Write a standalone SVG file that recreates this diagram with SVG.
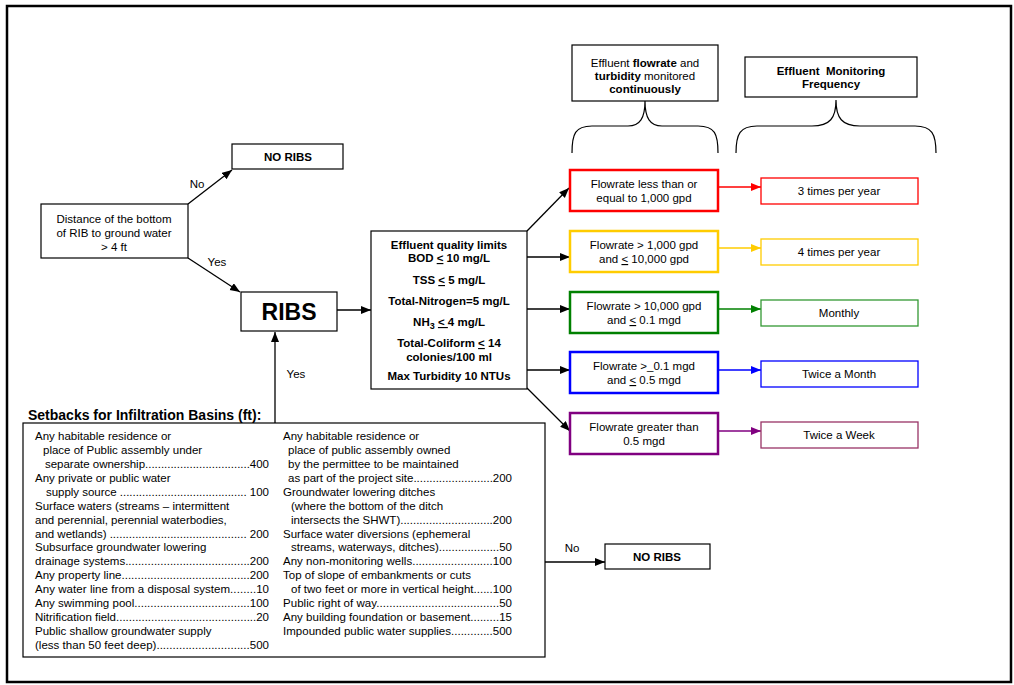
<svg xmlns="http://www.w3.org/2000/svg" width="1014" height="685" viewBox="0 0 1014 685">
  <style>
    .t { font-family: "Liberation Sans", Arial, sans-serif; font-size: 11.5px; fill: #000; }
    .b { font-weight: bold; }
    .m { text-anchor: middle; }
    .box { fill: #fff; stroke: #000; stroke-width: 1.2; }
    .con { fill: none; stroke: #000; stroke-width: 1.3; }
    .brace { fill: none; stroke: #000; stroke-width: 1.2; }
    .flow { fill: #fff; stroke-width: 2.5; }
    .freq { fill: #fff; stroke-width: 1.3; }
  </style>
  <defs>
    <marker id="ah" markerUnits="userSpaceOnUse" markerWidth="11" markerHeight="9" refX="10" refY="4" orient="auto">
      <path d="M0,0 L10,4 L0,8 z" fill="#000"/>
    </marker>
    <marker id="ah-red" markerUnits="userSpaceOnUse" markerWidth="11" markerHeight="9" refX="10" refY="4" orient="auto">
      <path d="M0,0 L10,4 L0,8 z" fill="#ff0000"/>
    </marker>
    <marker id="ah-yellow" markerUnits="userSpaceOnUse" markerWidth="11" markerHeight="9" refX="10" refY="4" orient="auto">
      <path d="M0,0 L10,4 L0,8 z" fill="#ffcc00"/>
    </marker>
    <marker id="ah-green" markerUnits="userSpaceOnUse" markerWidth="11" markerHeight="9" refX="10" refY="4" orient="auto">
      <path d="M0,0 L10,4 L0,8 z" fill="#008000"/>
    </marker>
    <marker id="ah-blue" markerUnits="userSpaceOnUse" markerWidth="11" markerHeight="9" refX="10" refY="4" orient="auto">
      <path d="M0,0 L10,4 L0,8 z" fill="#0000ff"/>
    </marker>
    <marker id="ah-purple" markerUnits="userSpaceOnUse" markerWidth="11" markerHeight="9" refX="10" refY="4" orient="auto">
      <path d="M0,0 L10,4 L0,8 z" fill="#800080"/>
    </marker>
  </defs>

  <rect x="0" y="0" width="1014" height="685" fill="#fff"/>
  <!-- page frame -->
  <rect x="7" y="6" width="1004" height="676" fill="none" stroke="#000" stroke-width="2.5"/>

  <!-- connectors -->
  <g id="connectors">
    <line class="con" x1="188" y1="204" x2="232" y2="170" marker-end="url(#ah)"/>
    <line class="con" x1="188" y1="258" x2="240" y2="292" marker-end="url(#ah)"/>
    <line class="con" x1="337" y1="310" x2="371" y2="310" marker-end="url(#ah)"/>
    <line class="con" x1="275" y1="423" x2="275" y2="332" marker-end="url(#ah)"/>
    <line class="con" x1="545" y1="562" x2="605" y2="562" marker-end="url(#ah)"/>
    <line class="con" x1="527" y1="231" x2="569" y2="188" marker-end="url(#ah)"/>
    <line class="con" x1="527" y1="257" x2="570" y2="257" marker-end="url(#ah)"/>
    <line class="con" x1="527" y1="309" x2="570" y2="309" marker-end="url(#ah)"/>
    <line class="con" x1="527" y1="370" x2="570" y2="370" marker-end="url(#ah)"/>
    <line class="con" x1="527" y1="388" x2="570" y2="431" marker-end="url(#ah)"/>
    <line x1="718" y1="187" x2="761" y2="187" stroke="#ff0000" stroke-width="1.3" marker-end="url(#ah-red)"/>
    <line x1="718" y1="248" x2="761" y2="248" stroke="#ffcc00" stroke-width="1.3" marker-end="url(#ah-yellow)"/>
    <line x1="718" y1="309" x2="761" y2="309" stroke="#008000" stroke-width="1.3" marker-end="url(#ah-green)"/>
    <line x1="718" y1="370" x2="761" y2="370" stroke="#0000ff" stroke-width="1.3" marker-end="url(#ah-blue)"/>
    <line x1="718" y1="431" x2="761" y2="431" stroke="#800080" stroke-width="1.3" marker-end="url(#ah-purple)"/>
    <text class="t" x="197" y="188" text-anchor="middle">No</text>
    <text class="t" x="217" y="266" text-anchor="middle">Yes</text>
    <text class="t" x="296" y="378" text-anchor="middle">Yes</text>
    <text class="t" x="572" y="552" text-anchor="middle">No</text>
    <!-- braces under the two header boxes -->
    <path class="brace" d="M572,153 C572,134 575,126 592,126 L628,126 C640,126 645,118 645,101 C645,118 650,126 662,126 L698,126 C715,126 718,134 718,153"/>
    <path class="brace" d="M736,153 C736,134 740,126 757,126 L812,126 C830,126 836,118 836,100 C836,118 842,126 860,126 L915,126 C932,126 936,134 936,153"/>
  </g>

  <!-- decision: depth to ground water -->
  <g id="distance">
    <rect class="box" x="41" y="204" width="147" height="54"/>
    <text class="t m" x="114" y="223">Distance of the bottom</text>
    <text class="t m" x="114" y="237">of RIB to ground water</text>
    <text class="t m" x="114" y="251">&gt; 4 ft</text>
  </g>

  <g id="no-ribs-top">
    <rect class="box" x="232" y="144" width="111" height="25"/>
    <text class="t b m" x="288" y="161">NO RIBS</text>
  </g>

  <g id="ribs">
    <rect class="box" x="241" y="292" width="96" height="39"/>
    <text class="t b m" x="289" y="320" style="font-size:23px">RIBS</text>
  </g>

  <!-- effluent quality limits -->
  <g id="quality">
    <rect class="box" x="371" y="231" width="156" height="158"/>
    <text class="t b m" x="449" y="249">Effluent quality limits</text>
    <text class="t b m" x="449" y="262">BOD <tspan text-decoration="underline">&lt;</tspan> 10 mg/L</text>
    <text class="t b m" x="449" y="284">TSS <tspan text-decoration="underline">&lt;</tspan> 5 mg/L</text>
    <text class="t b m" x="449" y="305">Total-Nitrogen=5 mg/L</text>
    <text class="t b m" x="449" y="326">NH<tspan dy="3" style="font-size:9px">3</tspan><tspan dy="-3"> </tspan><tspan text-decoration="underline">&lt; </tspan> 4 mg/L</text>
    <text class="t b m" x="449" y="347">Total-Coliform <tspan text-decoration="underline">&lt;</tspan> 14</text>
    <text class="t b m" x="449" y="361">colonies/100 ml</text>
    <text class="t b m" x="449" y="380">Max Turbidity 10 NTUs</text>
  </g>

  <!-- header boxes -->
  <g id="monitor-continuous">
    <rect class="box" x="572" y="45" width="146" height="56"/>
    <text class="t m" x="645" y="67">Effluent <tspan class="b">flowrate</tspan> and</text>
    <text class="t m" x="645" y="80"><tspan class="b">turbidity</tspan> monitored</text>
    <text class="t b m" x="645" y="93">continuously</text>
  </g>
  <g id="monitor-frequency">
    <rect class="box" x="745" y="57" width="172" height="40"/>
    <text class="t b m" x="831" y="75" xml:space="preserve">Effluent  Monitoring</text>
    <text class="t b m" x="831" y="88">Frequency</text>
  </g>

  <!-- flowrate classes -->
  <g id="flow-1">
    <rect class="flow" x="570" y="170" width="148" height="41" stroke="#ff0000"/>
    <text class="t m" x="644" y="188">Flowrate less than or</text>
    <text class="t m" x="644" y="202">equal to 1,000 gpd</text>
  </g>
  <g id="flow-2">
    <rect class="flow" x="570" y="231" width="148" height="41" stroke="#ffcc00"/>
    <text class="t m" x="644" y="249">Flowrate &gt; 1,000 gpd</text>
    <text class="t m" x="644" y="263">and <tspan text-decoration="underline">&lt;</tspan> 10,000 gpd</text>
  </g>
  <g id="flow-3">
    <rect class="flow" x="570" y="292" width="148" height="41" stroke="#008000"/>
    <text class="t m" x="644" y="310">Flowrate &gt; 10,000 gpd</text>
    <text class="t m" x="644" y="324">and <tspan text-decoration="underline">&lt;</tspan> 0.1 mgd</text>
  </g>
  <g id="flow-4">
    <rect class="flow" x="570" y="352" width="148" height="41" stroke="#0000ff"/>
    <text class="t m" x="644" y="370">Flowrate &gt;_0.1 mgd</text>
    <text class="t m" x="644" y="384">and <tspan text-decoration="underline">&lt;</tspan> 0.5 mgd</text>
  </g>
  <g id="flow-5">
    <rect class="flow" x="570" y="413" width="148" height="41" stroke="#800080"/>
    <text class="t m" x="644" y="431">Flowrate greater than</text>
    <text class="t m" x="644" y="445">0.5 mgd</text>
  </g>

  <!-- monitoring frequency -->
  <g id="freq-1">
    <rect class="freq" x="761" y="178" width="157" height="26" stroke="#ff0000"/>
    <text class="t m" x="839" y="195">3 times per year</text>
  </g>
  <g id="freq-2">
    <rect class="freq" x="761" y="239" width="157" height="26" stroke="#ffcc00"/>
    <text class="t m" x="839" y="256">4 times per year</text>
  </g>
  <g id="freq-3">
    <rect class="freq" x="761" y="300" width="157" height="26" stroke="#339933"/>
    <text class="t m" x="839" y="317">Monthly</text>
  </g>
  <g id="freq-4">
    <rect class="freq" x="761" y="361" width="157" height="26" stroke="#0000ff"/>
    <text class="t m" x="839" y="378">Twice a Month</text>
  </g>
  <g id="freq-5">
    <rect class="freq" x="761" y="422" width="157" height="26" stroke="#993366"/>
    <text class="t m" x="839" y="439">Twice a Week</text>
  </g>

  <g id="no-ribs-bottom">
    <rect class="box" x="605" y="544" width="105" height="25"/>
    <text class="t b m" x="657" y="561">NO RIBS</text>
  </g>

  <!-- setback distances table -->
  <g id="setbacks">
    <text class="t b" x="28" y="420" style="font-size:14px">Setbacks for Infiltration Basins (ft):</text>
    <rect class="box" x="23" y="423" width="522" height="234"/>
    <!-- left column -->
    <text class="t" x="35" y="440">Any habitable residence or</text>
    <text class="t" x="43" y="453.9">place of Public assembly under</text>
    <text class="t" x="45" y="467.9" textLength="224">separate ownership.................................400</text>
    <text class="t" x="35" y="481.8">Any private or public water</text>
    <text class="t" x="46" y="495.7" textLength="223">supply source ........................................ 100</text>
    <text class="t" x="35" y="509.7">Surface waters (streams – intermittent</text>
    <text class="t" x="35" y="523.6">and perennial, perennial waterbodies,</text>
    <text class="t" x="35" y="537.5" textLength="234">and wetlands) ........................................... 200</text>
    <text class="t" x="35" y="551.4">Subsurface groundwater lowering</text>
    <text class="t" x="35" y="565.4" textLength="234">drainage systems.......................................200</text>
    <text class="t" x="35" y="579.3" textLength="234">Any property line........................................200</text>
    <text class="t" x="35" y="593.2" textLength="234">Any water line from a disposal system........10</text>
    <text class="t" x="35" y="607.2" textLength="234">Any swimming pool....................................100</text>
    <text class="t" x="35" y="621.1" textLength="234">Nitrification field............................................20</text>
    <text class="t" x="35" y="635">Public shallow groundwater supply</text>
    <text class="t" x="35" y="648.9" textLength="234">(less than 50 feet deep).............................500</text>
    <!-- right column -->
    <text class="t" x="283" y="440">Any habitable residence or</text>
    <text class="t" x="288" y="453.9">place of public assembly owned</text>
    <text class="t" x="288" y="467.9">by the permittee to be maintained</text>
    <text class="t" x="288" y="481.8" textLength="224">as part of the project site.........................200</text>
    <text class="t" x="283" y="495.7">Groundwater lowering ditches</text>
    <text class="t" x="291" y="509.7">(where the bottom of the ditch</text>
    <text class="t" x="291" y="523.6" textLength="221">intersects the SHWT).............................200</text>
    <text class="t" x="283" y="537.5">Surface water diversions (ephemeral</text>
    <text class="t" x="291" y="551.4" textLength="221">streams, waterways, ditches)...................50</text>
    <text class="t" x="283" y="565.4" textLength="229">Any non-monitoring wells.........................100</text>
    <text class="t" x="283" y="579.3">Top of slope of embankments or cuts</text>
    <text class="t" x="291" y="593.2" textLength="221">of two feet or more in vertical height......100</text>
    <text class="t" x="283" y="607.2" textLength="229">Public right of way......................................50</text>
    <text class="t" x="283" y="621.1" textLength="229">Any building foundation or basement.........15</text>
    <text class="t" x="283" y="635" textLength="229">Impounded public water supplies.............500</text>
  </g>
</svg>
